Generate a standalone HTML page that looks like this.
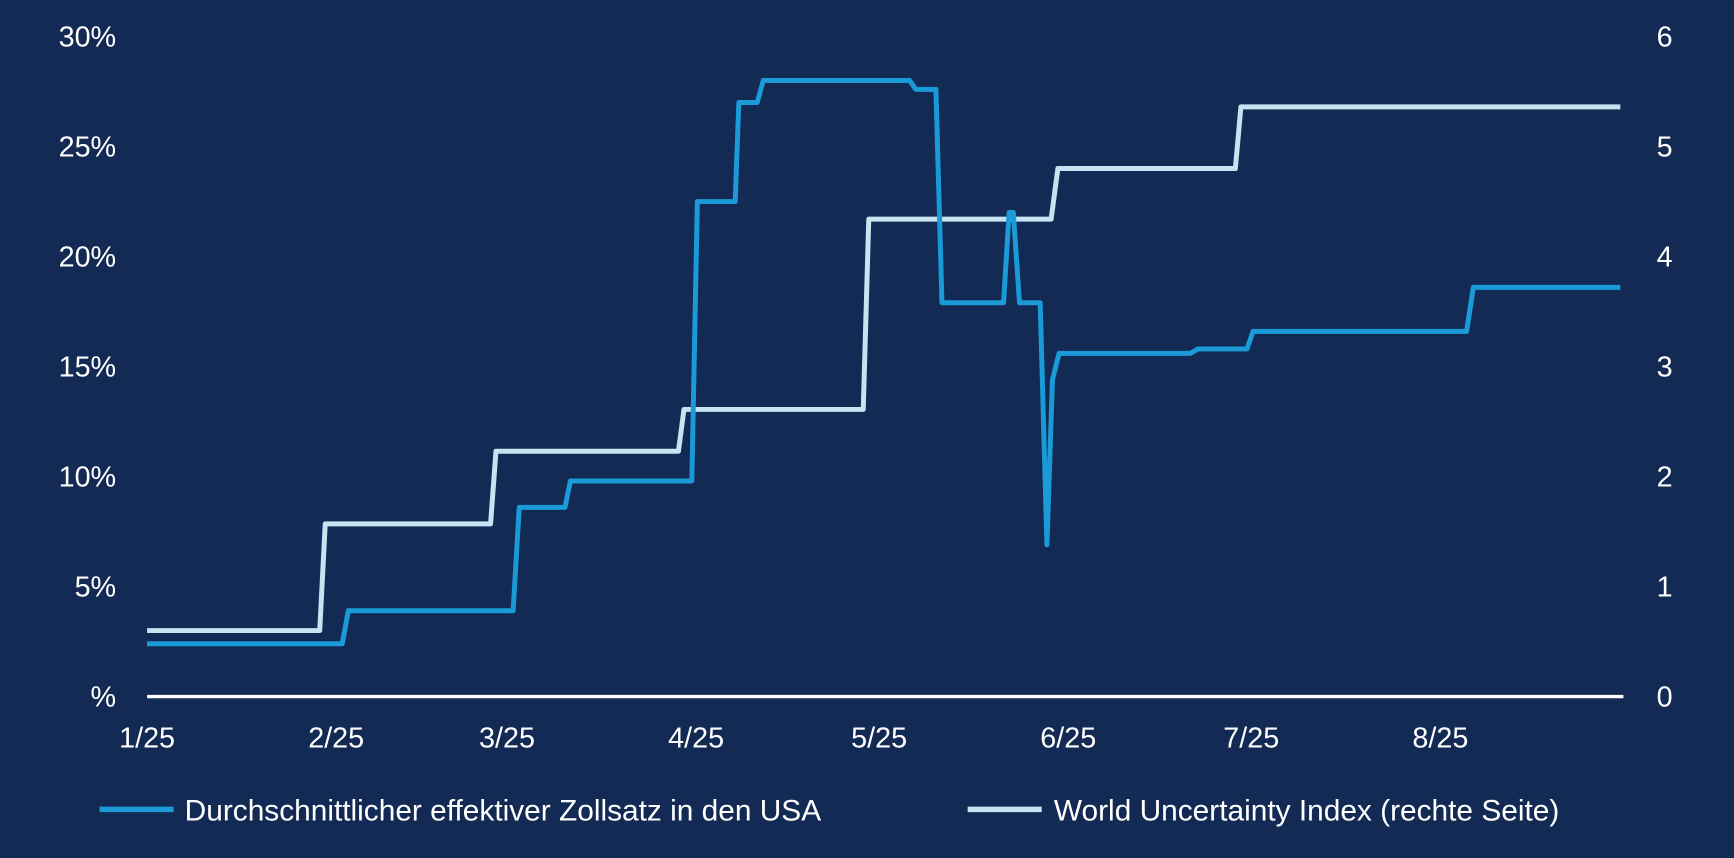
<!DOCTYPE html>
<html><head><meta charset="utf-8"><style>
html,body{margin:0;padding:0;background:#132a54;}
svg{display:block;}
svg text{font-family:"Liberation Sans",Arial,sans-serif;fill:#fff;}
</style></head><body>
<svg width="1734" height="858" viewBox="0 0 1568 776" preserveAspectRatio="none" xmlns="http://www.w3.org/2000/svg">
<rect width="1568" height="776" fill="#132a54"/>
<g id="yl"></g>
<g id="yr"></g>
<g id="xa"></g>
<g id="series"></g>
<g>
<g>
<line x1="90" y1="732" x2="157" y2="732" stroke="#1a9bd7" stroke-width="5"/>
<text x="167" y="742" font-size="27">Durchschnittlicher effektiver Zollsatz in den USA</text></g>
<g>
<line x1="875" y1="732" x2="942" y2="732" stroke="#c5e3f0" stroke-width="5"/>
<text x="953" y="742" font-size="27">World Uncertainty Index (rechte Seite)</text></g>
</g>
</svg>
<script>
const leftTicks=[0,5,10,15,20,25,30];
const leftTickLabels=["%","5%","10%","15%","20%","25%","30%"];
const rightTicks=[0,1,2,3,4,5,6];
const xTickDays=[0,31,59,90,120,151,181,212];
const xTickLabels=["1/25","2/25","3/25","4/25","5/25","6/25","7/25","8/25"];
const tariffDays=[0,32,33,60,61,68.5,69.4,89.3,90.2,96.4,97,100,101,125,126,129.3,130.3,140.4,141.3,142,143,146.4,147.5,148.4,149.5,171,172.3,180.3,181.3,216.3,217.4,241.5];
const tariffValues=[2.4,2.4,3.9,3.9,8.6,8.6,9.8,9.8,22.5,22.5,27.0,27.0,28.0,28.0,27.6,27.6,17.9,17.9,22.0,22.0,17.9,17.9,6.9,14.4,15.6,15.6,15.8,15.8,16.6,16.6,18.6,18.6];
const wuiDays=[0,28.3,29.2,56.3,57.2,87.1,88,117.4,118.3,148.2,149.3,178.4,179.3,241.5];
const wuiValues=[0.6,0.6,1.57,1.57,2.23,2.23,2.61,2.61,4.34,4.34,4.80,4.80,5.36,5.36];
const NS="http://www.w3.org/2000/svg";
const x=d=>133+d*(1335/242);
const yL=v=>630-v*(597/30);
const yR=v=>630-v*(597/6);
function mk(tag,attrs,parent){const e=document.createElementNS(NS,tag);for(const k in attrs)e.setAttribute(k,attrs[k]);parent.appendChild(e);return e;}
const yl=document.getElementById('yl'),yr=document.getElementById('yr'),xa=document.getElementById('xa'),se=document.getElementById('series');
leftTicks.forEach((v,i)=>{const t=mk('text',{x:105,y:yL(v)+9,'font-size':26,'text-anchor':'end'},yl);t.textContent=leftTickLabels[i];

});
rightTicks.forEach(v=>{const t=mk('text',{x:1498,y:yR(v)+9,'font-size':26,'text-anchor':'start'},yr);t.textContent=String(v);

});
const ax=mk('line',{x1:133,x2:1468,y1:630,y2:630,stroke:'#fff','stroke-width':3},xa);


xTickDays.forEach((d,i)=>{const t=mk('text',{x:x(d),y:676,'font-size':26,'text-anchor':'middle'},xa);t.textContent=xTickLabels[i];

});
const wp=wuiDays.map((d,i)=>x(d).toFixed(1)+','+yR(wuiValues[i]).toFixed(1)).join(' ');
const w=mk('polyline',{points:wp,fill:'none',stroke:'#c5e3f0','stroke-width':4.5,'stroke-linejoin':'round'},se);


const tp=tariffDays.map((d,i)=>x(d).toFixed(1)+','+yL(tariffValues[i]).toFixed(1)).join(' ');
const t=mk('polyline',{points:tp,fill:'none',stroke:'#1a9bd7','stroke-width':4.5,'stroke-linejoin':'round'},se);


</script>
</body></html>
